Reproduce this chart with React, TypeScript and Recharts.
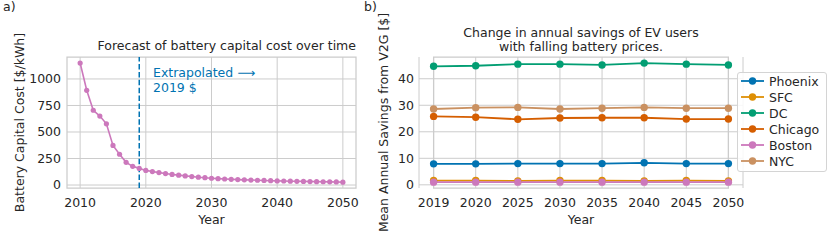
import React from 'react';
import {
  LineChart,
  Line,
  XAxis,
  YAxis,
  CartesianGrid,
  ReferenceLine,
  ReferenceArea,
  Legend,
} from 'recharts';

// ---------- Panel a) data ----------
const costYears = [
  2010, 2011, 2012, 2013, 2014, 2015, 2016, 2017, 2018, 2019, 2020, 2021, 2022, 2023, 2024,
  2025, 2026, 2027, 2028, 2029, 2030, 2031, 2032, 2033, 2034, 2035, 2036, 2037, 2038, 2039,
  2040, 2041, 2042, 2043, 2044, 2045, 2046, 2047, 2048, 2049, 2050,
];
const batteryCost = [
  1150, 893, 705, 650, 577, 373, 290, 214, 176, 157, 138, 127, 117, 108, 100,
  93, 86, 80, 74, 69, 64, 60, 57, 54, 51, 49, 47, 45, 43, 41,
  39, 38, 36, 35, 34, 33, 32, 31, 30, 29, 27,
];
const costXTicks = [2010, 2020, 2030, 2040, 2050];
const costYTicks = [0, 250, 500, 750, 1000];
const extrapolationYear = 2019;

// ---------- Panel b) data ----------
const savingsYears = ['2019', '2020', '2025', '2030', '2035', '2040', '2045', '2050'];
const phoenix = [7.9, 7.9, 8.0, 8.0, 8.0, 8.3, 8.0, 8.0];
const sfc = [1.6, 1.6, 1.5, 1.6, 1.6, 1.5, 1.6, 1.5];
const dc = [44.7, 44.9, 45.5, 45.5, 45.2, 45.9, 45.5, 45.2];
const chicago = [25.8, 25.5, 24.7, 25.2, 25.3, 25.3, 24.8, 24.8];
const boston = [1.0, 1.0, 1.0, 1.0, 1.0, 1.0, 1.0, 1.0];
const nyc = [28.6, 29.1, 29.2, 28.6, 28.9, 29.2, 28.9, 28.9];
const savingsYTicks = [0, 10, 20, 30, 40];

const cities = [
  { name: 'Phoenix', values: phoenix, color: '#0173b2' },
  { name: 'SFC', values: sfc, color: '#de8f05' },
  { name: 'DC', values: dc, color: '#029e73' },
  { name: 'Chicago', values: chicago, color: '#d55e00' },
  { name: 'Boston', values: boston, color: '#cc78bc' },
  { name: 'NYC', values: nyc, color: '#ca9161' },
];

const costData = costYears.map((year, i) => ({ year, cost: batteryCost[i] }));
const savingsData = savingsYears.map((year, i) => {
  const row: Record<string, string | number> = { year };
  cities.forEach((c) => {
    row[c.name] = c.values[i];
  });
  return row;
});

const FONT = '"DejaVu Sans", Verdana, sans-serif';
const FS = 12.5;
const TEXT = '#262626';
const GRID = '#cccccc';
const tickStyle = { fontSize: FS, fill: TEXT, fontFamily: FONT };

const LegendBox = () => {
  return (
    <div
      style={{
        border: '1px solid #d4d4d4',
        borderRadius: 3,
        background: 'rgba(255,255,255,0.85)',
        padding: '0 0 2px 0',
        width: 90,
        boxSizing: 'border-box',
        fontFamily: FONT,
        fontSize: FS,
        color: TEXT,
      }}
    >
      {cities.map((c) => (
        <div key={c.name} style={{ display: 'flex', alignItems: 'center', height: 16 }}>
          <svg width={30} height={16} style={{ display: 'block' }}>
            <line x1={3} y1={8} x2={26} y2={8} stroke={c.color} strokeWidth={1.8} />
            <circle cx={14.5} cy={8} r={3.7} fill={c.color} />
          </svg>
          <span style={{ marginLeft: 1, whiteSpace: 'nowrap' }}>{c.name}</span>
        </div>
      ))}
    </div>
  );
};

export default function App() {
  return (
    <div
      style={{
        position: 'absolute',
        left: 0,
        top: 0,
        width: 831,
        height: 240,
        background: '#ffffff',
        fontFamily: FONT,
        overflow: 'hidden',
      }}
    >
      {/* Panel a */}
      <div style={{ position: 'absolute', left: 0, top: 0 }}>
        <LineChart
          width={370}
          height={240}
          data={costData}
          margin={{ top: 57, right: 14, bottom: 0, left: 0 }}
        >
          <CartesianGrid stroke={GRID} strokeWidth={1} horizontalValues={costYTicks} verticalValues={costXTicks} />
          <ReferenceArea
            x1={2008}
            x2={2052}
            y1={-28}
            y2={1207}
            fill="none"
            stroke={GRID}
            strokeWidth={1.25}
            ifOverflow="extendDomain"
          />
          <XAxis
            dataKey="year"
            type="number"
            domain={[2008, 2052]}
            ticks={costXTicks}
            allowDataOverflow
            height={52}
            axisLine={false}
            tickLine={false}
            tickSize={6}
            tickMargin={4.5}
            tick={tickStyle}
          />
          <YAxis
            type="number"
            domain={[-28, 1207]}
            ticks={costYTicks}
            allowDataOverflow
            width={67}
            axisLine={false}
            tickLine={false}
            tickSize={3}
            tickMargin={3}
            tick={tickStyle}
          />
          <Line
            dataKey="cost"
            stroke="#cc78bc"
            strokeWidth={1.6}
            dot={{ r: 2.6, fill: '#cc78bc', stroke: '#cc78bc', strokeWidth: 0 }}
            isAnimationActive={false}
          />
          <ReferenceLine
            x={extrapolationYear}
            stroke="#0173b2"
            strokeWidth={1.5}
            strokeDasharray="5.5 2.4"
          />
        </LineChart>
      </div>

      {/* Panel b */}
      <div style={{ position: 'absolute', left: 360, top: 0 }}>
        <LineChart
          width={471}
          height={240}
          data={savingsData}
          margin={{ top: 57, right: 88, bottom: 0, left: 0 }}
        >
          <CartesianGrid stroke={GRID} strokeWidth={1} horizontalValues={savingsYTicks} />
          <XAxis
            dataKey="year"
            type="category"
            padding={{ left: 14.6, right: 14.6 }}
            height={52}
            axisLine={false}
            tickLine={false}
            tickSize={6}
            tickMargin={4.5}
            tick={tickStyle}
            interval={0}
          />
          <YAxis
            type="number"
            domain={[-1.2, 48.2]}
            ticks={savingsYTicks}
            allowDataOverflow
            width={59}
            axisLine={false}
            tickLine={false}
            tickSize={2}
            tickMargin={3}
            tick={tickStyle}
          />
          <ReferenceArea
            y1={-1.2}
            y2={48.2}
            fill="none"
            stroke={GRID}
            strokeWidth={1.25}
          />
          {cities.map((c) => (
            <Line
              key={c.name}
              dataKey={c.name}
              name={c.name}
              stroke={c.color}
              strokeWidth={1.8}
              dot={{ r: 3.7, fill: c.color, stroke: c.color, strokeWidth: 0 }}
              isAnimationActive={false}
            />
          ))}
          <Legend
            layout="vertical"
            align="center"
            verticalAlign="middle"
            content={LegendBox}
            wrapperStyle={{ left: 377, top: 72, width: 90, height: 100 }}
          />
        </LineChart>
      </div>

      {/* Text overlay */}
      <svg
        width={831}
        height={240}
        style={{ position: 'absolute', left: 0, top: 0, pointerEvents: 'none' }}
        fontFamily={FONT}
        fontSize={FS}
        fill={TEXT}
      >
        <text x={3} y={11}>a)</text>
        <text x={364} y={11}>b)</text>
        <text x={356} y={50} textAnchor="end">Forecast of battery capital cost over time</text>
        <text x={153} y={77} fill="#0173b2">Extrapolated ⟶</text>
        <text x={153} y={92} fill="#0173b2">2019 $</text>
        <text x={211.5} y={223.5} textAnchor="middle">Year</text>
        <text x={24} y={122.5} textAnchor="middle" transform="rotate(-90 24 122.5)">
          Battery Capital Cost [$/kWh]
        </text>
        <text x={581} y={37} textAnchor="middle">Change in annual savings of EV users</text>
        <text x={581} y={51} textAnchor="middle">with falling battery prices.</text>
        <text x={581} y={223.5} textAnchor="middle">Year</text>
        <text x={388} y={122.5} textAnchor="middle" transform="rotate(-90 388 122.5)">
          Mean Annual Savings from V2G [$]
        </text>
      </svg>
    </div>
  );
}
